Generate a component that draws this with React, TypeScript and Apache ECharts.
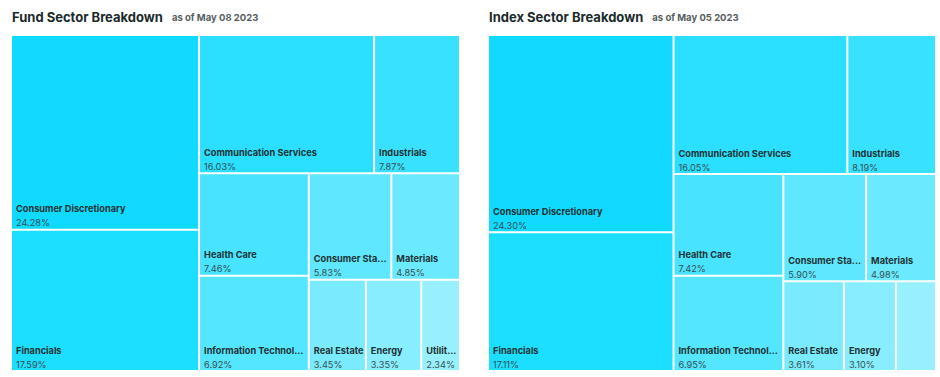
import React, { useEffect, useRef } from "react";
import * as echarts from "echarts";

const sectors = [
  "Consumer Discretionary",
  "Financials",
  "Communication Services",
  "Industrials",
  "Health Care",
  "Information Technology",
  "Consumer Staples",
  "Materials",
  "Real Estate",
  "Energy",
  "Utilities",
];
const fundValues = [24.28, 17.59, 16.03, 7.87, 7.46, 6.92, 5.83, 4.85, 3.45, 3.35, 2.34];
const indexValues = [24.3, 17.11, 16.05, 8.19, 7.42, 6.95, 5.9, 4.98, 3.61, 3.1, 2.39];
const colors = [
  "#10DAFF",
  "#1CDEFF",
  "#2ADFFF",
  "#38E1FF",
  "#48E3FF",
  "#54E5FF",
  "#5FE7FF",
  "#6BE9FF",
  "#7AEBFF",
  "#88EDFF",
  "#98F0FF",
];
const fundTitle = "Fund Sector Breakdown";
const fundDate = "as of May 08 2023";
const indexTitle = "Index Sector Breakdown";
const indexDate = "as of May 05 2023";
const hiddenIndexLabels = ["Utilities"];

const FONT = "Inter, 'Noto Sans', sans-serif";

function buildData(values: number[], hidden: string[]) {
  return sectors.map((name, i) => ({
    name,
    value: values[i],
    itemStyle: { color: colors[i] },
    label: hidden.includes(name) ? { show: false } : undefined,
  }));
}

function series(values: number[], hidden: string[], left: number, width: number) {
  return {
    type: "treemap",
    left,
    top: 36,
    width,
    height: 334,
    roam: false,
    nodeClick: false,
    breadcrumb: { show: false },
    squareRatio: 1,
    label: {
      show: true,
      position: "insideTopLeft",
      padding: [0, 0, 0, 4],
      overflow: "truncate",
      ellipsis: "...",
      formatter: (p: any) =>
        `{n|${p.name}}\n{v|${Number(p.value).toFixed(2)}%}`,
      rich: {
        n: {
          fontFamily: FONT,
          fontWeight: 700,
          fontSize: 9.2,
          color: "#1E3232",
          lineHeight: 14,
        },
        v: {
          fontFamily: FONT,
          fontSize: 9.2,
          color: "#36504F",
          lineHeight: 14,
        },
      },
    },
    labelLayout: (p: any) => ({ dy: p.rect.height - 27 }),
    upperLabel: { show: false },
    itemStyle: { borderColor: "#ffffff", borderWidth: 0, gapWidth: 2 },
    levels: [{ itemStyle: { borderWidth: 0, gapWidth: 2, borderColor: "#fff" } }],
    emphasis: { disabled: true },
    data: buildData(values, hidden),
  };
}

export default function App() {
  const ref = useRef<HTMLDivElement>(null);
  useEffect(() => {
    if (!ref.current) return;
    const chart = echarts.init(ref.current, undefined, { renderer: "svg" });
    const titleStyle = {
      rich: {
        a: { fontFamily: FONT, fontWeight: 700, fontSize: 13, color: "#1B2A2A" },
        b: { fontFamily: FONT, fontSize: 9.5, color: "#555E60", padding: [0, 0, 0, 4] },
      },
    };
    chart.setOption({
      animation: false,
      backgroundColor: "#ffffff",
      title: [
        { left: 7, top: 3, text: `{a|${fundTitle}} {b|${fundDate}}`, textStyle: titleStyle },
        { left: 484, top: 3, text: `{a|${indexTitle}} {b|${indexDate}}`, textStyle: titleStyle },
      ],
      tooltip: { show: false },
      series: [
        series(fundValues, [], 12, 447),
        series(indexValues, hiddenIndexLabels, 489, 446),
      ],
    });
    return () => chart.dispose();
  }, []);
  return (
    <div
      ref={ref}
      style={{ position: "absolute", left: 0, top: 0, width: 940, height: 377 }}
    />
  );
}
